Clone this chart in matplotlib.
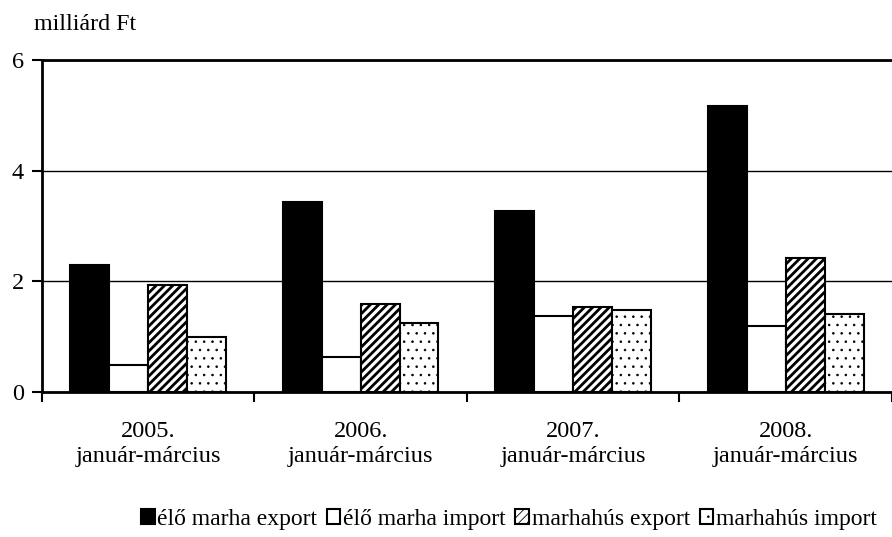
import numpy as np
import matplotlib.pyplot as plt

plt.rcParams['font.family'] = ['Liberation Serif', 'DejaVu Serif']

groups = ["2005.\njanuár-március", "2006.\njanuár-március", "2007.\njanuár-március", "2008.\njanuár-március"]
series = ["élő marha export", "élő marha import", "marhahús export", "marhahús import"]
elo_export = [2.30, 3.44, 3.27, 5.17]
elo_import = [0.48, 0.64, 1.37, 1.20]
hus_export = [1.93, 1.59, 1.53, 2.43]
hus_import = [0.99, 1.24, 1.49, 1.41]

fig = plt.figure(figsize=(8.92, 5.37), dpi=100)
ax = fig.add_axes([0.047, 0.27, 0.953, 0.618])

x = np.arange(len(groups))
w = 0.183
vals = [elo_export, elo_import, hus_export, hus_import]
faces = ["black", "white", "white", "white"]
hatches = [None, None, "////", ".."]
hlw = [1.0, 1.0, 2.0, 0.6]
for i in range(4):
    plt.rcParams['hatch.linewidth'] = hlw[i]
    bars = ax.bar(x + (i - 1.5) * w, vals[i], w, color=faces[i], edgecolor="black",
                  linewidth=1.5, hatch=hatches[i], label=series[i], zorder=3)
    for b in bars:
        if hasattr(b, "set_hatch_linewidth"):
            b.set_hatch_linewidth(hlw[i])

ax.set_xlim(-0.5, 3.5)
ax.set_ylim(0, 6)
ax.set_yticks([0, 2, 4, 6])
ax.yaxis.grid(True, color="black", linewidth=1)
ax.set_axisbelow(True)
ax.set_xticks(x)
ax.set_xticklabels(groups, fontsize=17.5, linespacing=1.25)
ax.tick_params(axis="x", length=0, pad=21)
ax.set_xticks(np.arange(-0.5, 3.6, 1), minor=True)
ax.tick_params(axis="x", which="minor", length=7, width=1.5)
ax.tick_params(axis="y", labelsize=17.5, length=7, width=1.5, pad=6)
ax.spines["right"].set_visible(False)
ax.spines["top"].set_linewidth(2)
ax.spines["left"].set_linewidth(2)
ax.spines["bottom"].set_linewidth(2)

fig.text(0.038, 1 - 30 / 537, "milliárd Ft", fontsize=17.3, va="baseline")

leg = fig.legend(loc="center right", bbox_to_anchor=(877 / 892, 1 - 519 / 537), ncol=4,
                 frameon=False, fontsize=17, handlelength=0.58, handleheight=0.58,
                 handletextpad=0.12, columnspacing=0.4, borderpad=0, borderaxespad=0)

fig.savefig("out.png", dpi=100)
